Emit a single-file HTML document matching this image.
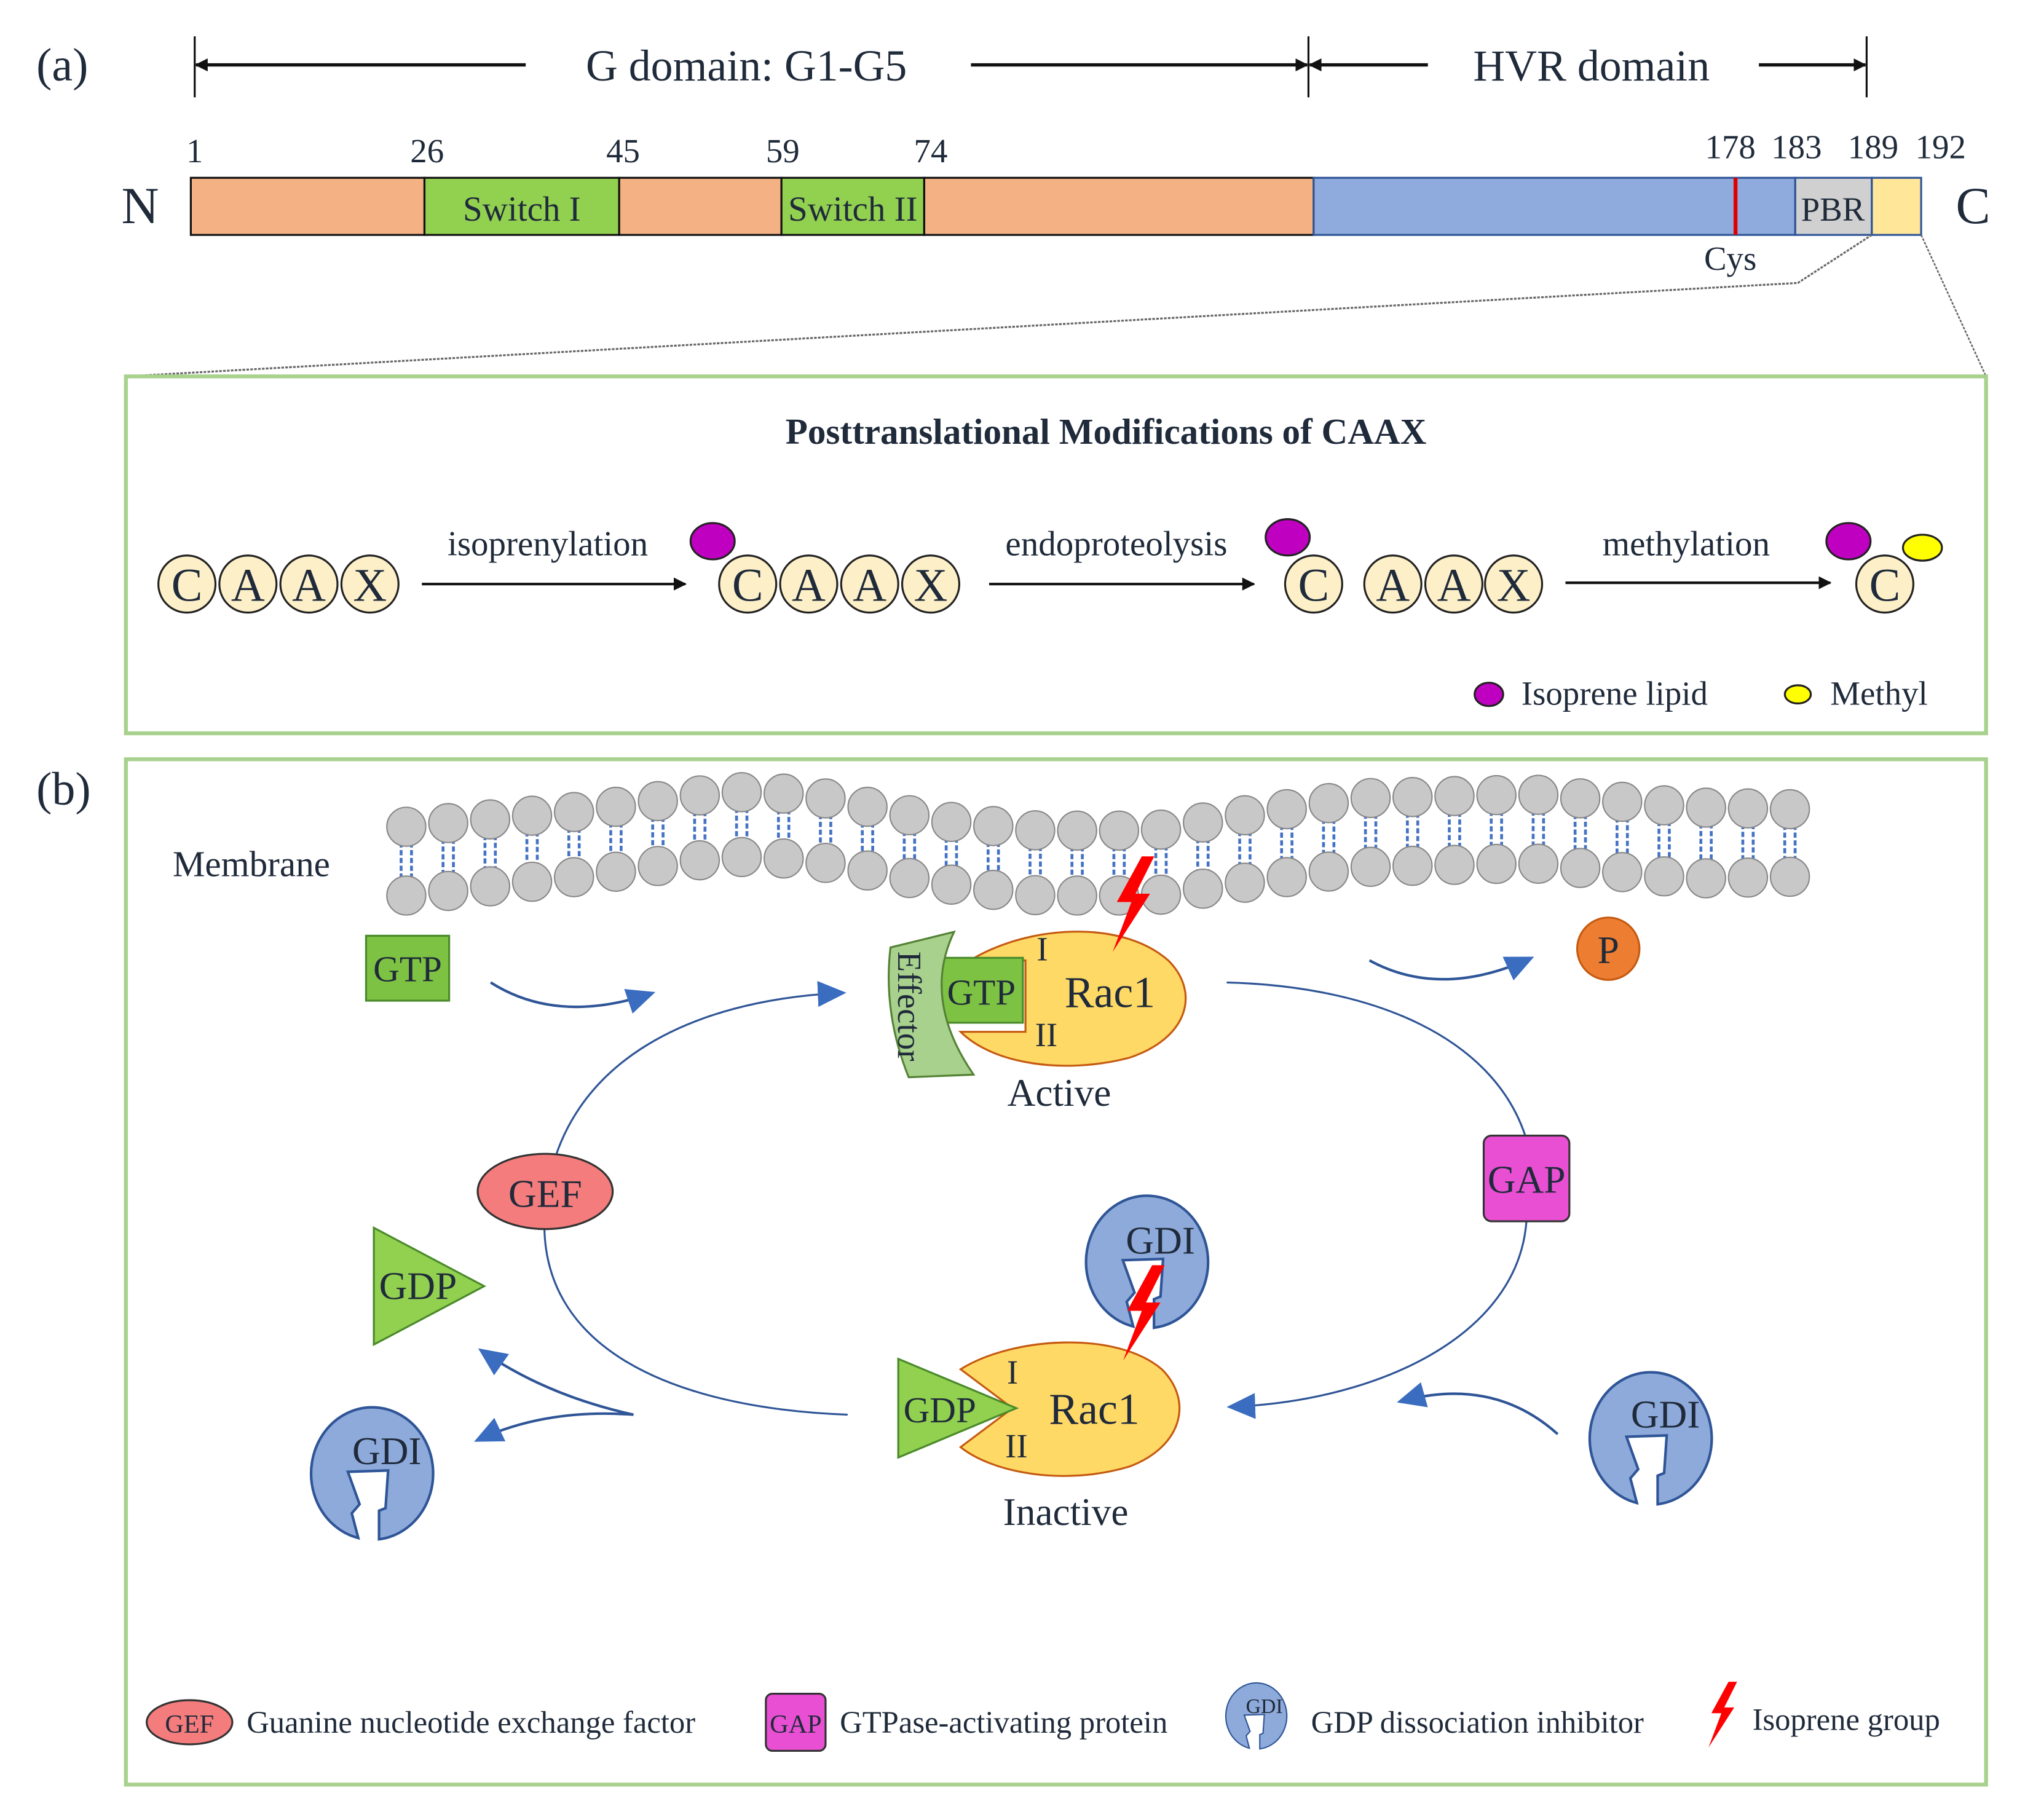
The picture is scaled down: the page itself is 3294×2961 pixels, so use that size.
<!DOCTYPE html>
<html><head><meta charset="utf-8"><style>
html,body{margin:0;padding:0;background:#fff}
svg{display:block}
text{font-family:"Liberation Serif","DejaVu Serif",serif;fill:#1f2a3a}
</style></head><body>
<svg id="s" width="3294" height="2961" viewBox="0 0 1560 1402.3" xmlns="http://www.w3.org/2000/svg" font-family="Liberation Serif, DejaVu Serif, serif">
<defs>
<marker id="ab" markerWidth="10" markerHeight="10" refX="9" refY="5" orient="auto" markerUnits="userSpaceOnUse"><path d="M0,0 L10,5 L0,10z" fill="#111"/></marker>
<marker id="bb" markerWidth="22" markerHeight="20" refX="20" refY="10" orient="auto" markerUnits="userSpaceOnUse"><path d="M0,0 L22,10 L0,20z" fill="#3a6cc0"/></marker>
<g id="gdi"><path d="M-3,51 L-3,29 L2,27 L4,-2 L-27,-1 L-18,24 L-24,31 L-19,50 A47,51 0 1 1 -3,51z" fill="#8eaadb" stroke="#2f5597" stroke-width="2"/></g>
<g id="bolt"><polygon points="6,-22 -6,0 1,0 -8,24 10,-4 3,-4 12,-22" fill="#f00"/></g>
</defs>

<text x="28" y="62" font-size="36">(a)</text>
<g stroke="#111" stroke-width="1.5">
<line x1="150" y1="28" x2="150" y2="75"/><line x1="1008" y1="28" x2="1008" y2="75"/><line x1="1438" y1="28" x2="1438" y2="75"/>
<line x1="405" y1="50" x2="151" y2="50" stroke-width="2.5" marker-end="url(#ab)"/>
<line x1="748" y1="50" x2="1007" y2="50" stroke-width="2.5" marker-end="url(#ab)"/>
<line x1="1100" y1="50" x2="1009" y2="50" stroke-width="2.5" marker-end="url(#ab)"/>
<line x1="1355" y1="50" x2="1437" y2="50" stroke-width="2.5" marker-end="url(#ab)"/>
</g>
<text x="575" y="62" font-size="34" text-anchor="middle">G domain: G1-G5</text>
<text x="1226" y="62" font-size="34" text-anchor="middle">HVR domain</text>
<g font-size="26" text-anchor="middle">
<text x="150" y="125">1</text><text x="329" y="125">26</text><text x="480" y="125">45</text><text x="603" y="125">59</text><text x="717" y="125">74</text>
<text x="1333" y="122">178</text><text x="1384" y="122">183</text><text x="1443" y="122">189</text><text x="1495" y="122">192</text>
</g>
<text x="108" y="172" font-size="40" text-anchor="middle">N</text>
<text x="1520" y="172" font-size="40" text-anchor="middle">C</text>
<g stroke-width="1.5">
<rect x="147" y="137" width="180" height="44" fill="#f4b183" stroke="#111"/>
<rect x="327" y="137" width="150" height="44" fill="#92d050" stroke="#111"/>
<rect x="477" y="137" width="125" height="44" fill="#f4b183" stroke="#111"/>
<rect x="602" y="137" width="110" height="44" fill="#92d050" stroke="#111"/>
<rect x="712" y="137" width="300" height="44" fill="#f4b183" stroke="#111"/>
<rect x="1012" y="137" width="371" height="44" fill="#8faadc" stroke="#2f5597"/>
<rect x="1383" y="137" width="59" height="44" fill="#d0d0d0" stroke="#2f5597"/>
<rect x="1442" y="137" width="38" height="44" fill="#ffe699" stroke="#2f5597"/>
<line x1="1337" y1="137" x2="1337" y2="181" stroke="#e00000" stroke-width="3"/>
</g>
<text x="402" y="170" font-size="27" text-anchor="middle">Switch I</text>
<text x="657" y="170" font-size="27" text-anchor="middle">Switch II</text>
<text x="1412" y="170" font-size="26" text-anchor="middle">PBR</text>
<text x="1333" y="208" font-size="26" text-anchor="middle">Cys</text>
<polyline points="1442,181 1385,218 97,290" fill="none" stroke="#666" stroke-width="1.5" stroke-dasharray="2,1"/>
<line x1="1480" y1="181" x2="1530" y2="290" stroke="#666" stroke-width="1.2" stroke-dasharray="2,1"/>
<rect x="97" y="290" width="1433" height="275" fill="none" stroke="#a9d18e" stroke-width="3"/>
<text x="852" y="342" font-size="28" font-weight="bold" text-anchor="middle">Posttranslational Modifications of CAAX</text>
<g fill="#fdf0c8" stroke="#222" stroke-width="1.5">
<circle cx="144" cy="450" r="22"/><circle cx="191" cy="450" r="22"/><circle cx="238" cy="450" r="22"/><circle cx="285" cy="450" r="22"/>
<circle cx="576" cy="450" r="22"/><circle cx="623" cy="450" r="22"/><circle cx="670" cy="450" r="22"/><circle cx="717" cy="450" r="22"/>
<circle cx="1012" cy="450" r="22"/><circle cx="1073" cy="450" r="22"/><circle cx="1120" cy="450" r="22"/><circle cx="1166" cy="450" r="22"/>
<circle cx="1452" cy="450" r="22"/>
</g>
<g font-size="36" text-anchor="middle">
<text x="144" y="463">C</text><text x="191" y="463">A</text><text x="238" y="463">A</text><text x="285" y="463">X</text>
<text x="576" y="463">C</text><text x="623" y="463">A</text><text x="670" y="463">A</text><text x="717" y="463">X</text>
<text x="1012" y="463">C</text><text x="1073" y="463">A</text><text x="1120" y="463">A</text><text x="1166" y="463">X</text>
<text x="1452" y="463">C</text>
</g>
<g fill="#c000c0" stroke="#222" stroke-width="1.5">
<ellipse cx="549" cy="417" rx="17" ry="14"/><ellipse cx="992" cy="414" rx="17" ry="14"/><ellipse cx="1424" cy="417" rx="17" ry="14"/>
<ellipse cx="1147" cy="535" rx="11" ry="9"/>
</g>
<g fill="#ffff00" stroke="#222" stroke-width="1.5"><ellipse cx="1481" cy="422" rx="15" ry="10"/><ellipse cx="1385" cy="535" rx="10" ry="7"/></g>
<g stroke="#111" stroke-width="2">
<line x1="325" y1="450" x2="528" y2="450" marker-end="url(#ab)"/>
<line x1="762" y1="450" x2="966" y2="450" marker-end="url(#ab)"/>
<line x1="1206" y1="449" x2="1410" y2="449" marker-end="url(#ab)"/>
</g>
<g font-size="27" text-anchor="middle">
<text x="422" y="428">isoprenylation</text><text x="860" y="428">endoproteolysis</text><text x="1299" y="428">methylation</text>
</g>
<text x="1172" y="543" font-size="26">Isoprene lipid</text>
<text x="1410" y="543" font-size="26">Methyl</text>

<text x="28" y="620" font-size="36">(b)</text>
<rect x="97" y="585" width="1433" height="790" fill="none" stroke="#a9d18e" stroke-width="3"/>
<text x="133" y="675" font-size="28">Membrane</text>
<g id="mem"></g>

<rect x="282" y="721" width="64" height="50" fill="#7dc242" stroke="#4a8a2a" stroke-width="1.5"/>
<text x="314" y="756" font-size="28" text-anchor="middle">GTP</text>
<path d="M378,757 Q430,790 503,765" fill="none" stroke="#2f5597" stroke-width="2" marker-end="url(#bb)"/>
<path d="M1055,740 Q1110,770 1180,738" fill="none" stroke="#2f5597" stroke-width="2" marker-end="url(#bb)"/>
<circle cx="1239" cy="731" r="24" fill="#ed7d31" stroke="#c55a11" stroke-width="1.5"/>
<text x="1239" y="742" font-size="30" text-anchor="middle">P</text>

<path d="M653,1090 C520,1085 410,1040 420,930 C430,820 530,770 650,765" fill="none" stroke="#2f5597" stroke-width="1.5" marker-end="url(#bb)"/>
<path d="M945,757 C1060,760 1150,800 1175,875" fill="none" stroke="#2f5597" stroke-width="1.5"/>
<path d="M1176,940 C1170,1030 1060,1080 947,1084" fill="none" stroke="#2f5597" stroke-width="1.5" marker-end="url(#bb)"/>
<path d="M488,1090 Q420,1075 370,1040" fill="none" stroke="#2f5597" stroke-width="2" marker-end="url(#bb)"/>
<path d="M488,1090 Q420,1085 367,1110" fill="none" stroke="#2f5597" stroke-width="2" marker-end="url(#bb)"/>
<path d="M1200,1105 Q1150,1060 1078,1080" fill="none" stroke="#2f5597" stroke-width="2" marker-end="url(#bb)"/>

<ellipse cx="420" cy="918" rx="52" ry="29" fill="#f47c7c" stroke="#333" stroke-width="1.5"/>
<text x="420" y="930" font-size="30" text-anchor="middle">GEF</text>
<polygon points="288,946 288,1036 373,991" fill="#92d050" stroke="#4a8a2a" stroke-width="1.5"/>
<text x="322" y="1001" font-size="30" text-anchor="middle">GDP</text>
<rect x="1143" y="875" width="66" height="66" rx="6" fill="#e84fd2" stroke="#333" stroke-width="1.5"/>
<text x="1176" y="919" font-size="30" text-anchor="middle">GAP</text>

<use href="#gdi" x="295" y="1135"/>
<text x="298" y="1128" font-size="30" text-anchor="middle">GDI</text>
<use href="#gdi" x="1280" y="1108"/>
<text x="1283" y="1100" font-size="30" text-anchor="middle">GDI</text>
<use href="#gdi" x="892" y="972"/>
<text x="894" y="966" font-size="30" text-anchor="middle">GDI</text>

<path d="M740,745 C780,715 860,705 900,740 C925,765 915,800 870,815 C820,828 765,820 740,795 L790,795 L790,740z" fill="#ffd966" stroke="#c55a11" stroke-width="1.5"/>
<rect x="724" y="738" width="64" height="50" fill="#7dc242" stroke="#4a8a2a" stroke-width="1.5"/>
<text x="756" y="774" font-size="28" text-anchor="middle">GTP</text>
<path d="M686,730 L735,718 Q710,770 750,828 L700,830 Q680,780 686,730z" fill="#a9d18e" stroke="#548235" stroke-width="1.5"/>
<text transform="translate(692,733) rotate(90)" font-size="26">Effector</text>
<text x="803" y="740" font-size="26" text-anchor="middle">I</text>
<text x="806" y="806" font-size="26" text-anchor="middle">II</text>
<text x="855" y="776" font-size="34" text-anchor="middle">Rac1</text>
<text x="816" y="852" font-size="30" text-anchor="middle">Active</text>
<g transform="translate(870,695) scale(1.6)"><use href="#bolt"/></g>

<path d="M740,1055 C780,1030 860,1025 895,1055 C920,1080 910,1115 870,1130 C820,1145 765,1135 740,1115 L780,1085z" fill="#ffd966" stroke="#c55a11" stroke-width="1.5"/>
<polygon points="692,1047 692,1123 783,1085" fill="#92d050" stroke="#4a8a2a" stroke-width="1.5"/>
<text x="724" y="1096" font-size="28" text-anchor="middle">GDP</text>
<text x="780" y="1066" font-size="26" text-anchor="middle">I</text>
<text x="783" y="1123" font-size="26" text-anchor="middle">II</text>
<text x="843" y="1097" font-size="34" text-anchor="middle">Rac1</text>
<text x="821" y="1175" font-size="30" text-anchor="middle">Inactive</text>
<g transform="translate(878,1010) scale(1.6)"><use href="#bolt"/></g>

<ellipse cx="146" cy="1327" rx="33" ry="17" fill="#f47c7c" stroke="#333" stroke-width="1.5"/>
<text x="146" y="1335" font-size="20" text-anchor="middle">GEF</text>
<text x="190" y="1335" font-size="24">Guanine nucleotide exchange factor</text>
<rect x="590" y="1305" width="46" height="44" rx="5" fill="#e84fd2" stroke="#333" stroke-width="1.5"/>
<text x="613" y="1335" font-size="20" text-anchor="middle">GAP</text>
<text x="647" y="1335" font-size="24">GTPase-activating protein</text>
<g transform="translate(972,1322) scale(0.5)"><use href="#gdi"/></g>
<text x="974" y="1320" font-size="16" text-anchor="middle">GDI</text>
<text x="1010" y="1335" font-size="24">GDP dissociation inhibitor</text>
<g transform="translate(1325,1320) scale(1.1)"><use href="#bolt"/></g>
<text x="1350" y="1333" font-size="24">Isoprene group</text>
</svg>
<script>
(function(){
var g=document.getElementById('mem'),h='';
function f(x,pts){for(var i=0;i<pts.length-1;i++){if(x<=pts[i+1][0]){var t=(x-pts[i][0])/(pts[i+1][0]-pts[i][0]);return pts[i][1]+t*(pts[i+1][1]-pts[i][1]);}}return pts[pts.length-1][1];}
var T=[[313,637],[450,625],[560,610],[620,612],[720,632],[800,640],[890,640],[960,628],[1050,615],[1180,612],[1300,622],[1408,624]];
var B=[[313,690],[450,675],[560,660],[620,662],[720,680],[800,690],[890,690],[960,680],[1050,668],[1180,665],[1300,677],[1408,675]];
for(var x=313;x<=1410;x+=32.3){var a=f(x,T),b=f(x,B);
h+='<line x1="'+(x-4)+'" y1="'+(a+12)+'" x2="'+(x-4)+'" y2="'+(b-12)+'" stroke="#4472c4" stroke-width="2.2" stroke-dasharray="4,2"/>';
h+='<line x1="'+(x+4)+'" y1="'+(a+12)+'" x2="'+(x+4)+'" y2="'+(b-12)+'" stroke="#4472c4" stroke-width="2.2" stroke-dasharray="4,2"/>';}
for(var x=313;x<=1410;x+=32.3){h+='<circle cx="'+x+'" cy="'+f(x,T)+'" r="15" fill="#c8c8c8" stroke="#888" stroke-width="1"/>';
h+='<circle cx="'+x+'" cy="'+f(x,B)+'" r="15" fill="#c8c8c8" stroke="#888" stroke-width="1"/>';}
g.innerHTML=h;
})();
</script>
</body></html>
